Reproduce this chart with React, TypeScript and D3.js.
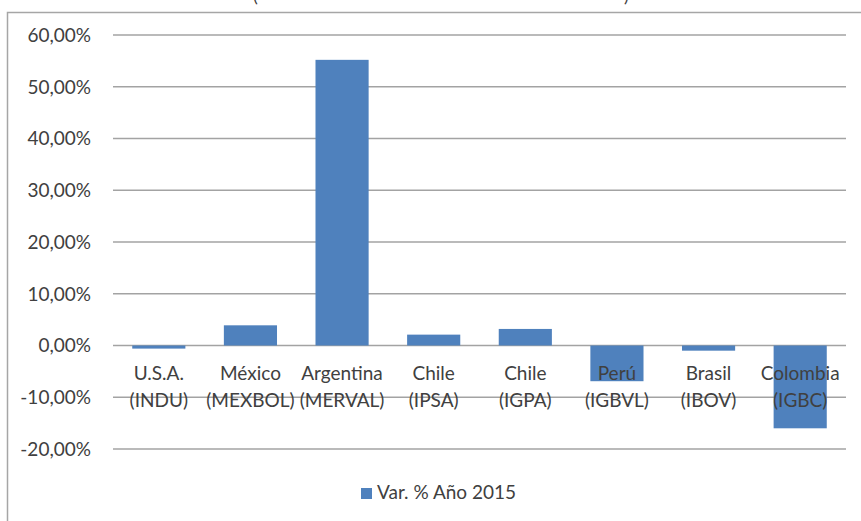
import React from "react";
import * as d3 from "d3";

const categories = ["U.S.A.|(INDU)", "México|(MEXBOL)", "Argentina|(MERVAL)", "Chile|(IPSA)", "Chile|(IGPA)", "Perú|(IGBVL)", "Brasil|(IBOV)", "Colombia|(IGBC)"];
const values = [-0.6, 3.9, 55.2, 2.1, 3.2, -6.9, -1.0, -16.0];
const yTicks = [-20, -10, 0, 10, 20, 30, 40, 50, 60];
const seriesName = "Var. % Año 2015";

const W = 861;
const H = 521;
const FONT = "Lato, 'Open Sans', sans-serif";

export default function App() {
  const x = d3.scaleBand<string>().domain(categories).range([113, 846]).paddingInner(0.42).paddingOuter(0.21);
  const y = d3.scaleLinear().domain([-20, 60]).range([449, 35]);
  const fmt = (v: number) => v.toFixed(2).replace(".", ",") + "%";

  return (
    <svg width={W} height={H} style={{ position: "fixed", left: 0, top: 0, background: "#fff" }} fontFamily={FONT}>
      <rect x={0} y={0} width={W} height={H} fill="#fff" />
      {/* partially visible title parentheses */}
      <text x={253} y={2} fontSize={18} fill="#404040">(</text>
      <text x={624} y={2} fontSize={18} fill="#404040">)</text>
      {/* chart border */}
      <path d={`M7.5,${H + 5} V12.5 H${W + 5}`} fill="none" stroke="#a6a6a6" strokeWidth={1.5} />
      {/* gridlines */}
      {yTicks.map((t) => (
        <line key={t} x1={113} x2={846} y1={y(t)} y2={y(t)} stroke="#a3a3a3" strokeWidth={1.4} />
      ))}
      {/* tick labels */}
      {yTicks.map((t) => (
        <text key={"l" + t} x={91} y={y(t)} dy="0.36em" textAnchor="end" fontSize={19} fill="#404040">
          {fmt(t)}
        </text>
      ))}
      {/* bars */}
      {values.map((v, i) => (
        <rect
          key={i}
          x={x(categories[i])}
          width={x.bandwidth()}
          y={Math.min(y(v), y(0))}
          height={Math.abs(y(v) - y(0))}
          fill="#4f81bd"
        />
      ))}
      {/* category labels */}
      {categories.map((c) => {
        const [a, b] = c.split("|");
        const cx = (x(c) as number) + x.bandwidth() / 2;
        return (
          <g key={c}>
            <text x={cx} y={380} textAnchor="middle" fontSize={19} fill="#404040">{a}</text>
            <text x={cx} y={407} textAnchor="middle" fontSize={19} fill="#404040">{b}</text>
          </g>
        );
      })}
      {/* legend */}
      <rect x={361} y={488} width={11} height={11} fill="#4f81bd" />
      <text x={377} y={499} fontSize={19} fill="#404040">{seriesName}</text>
    </svg>
  );
}
